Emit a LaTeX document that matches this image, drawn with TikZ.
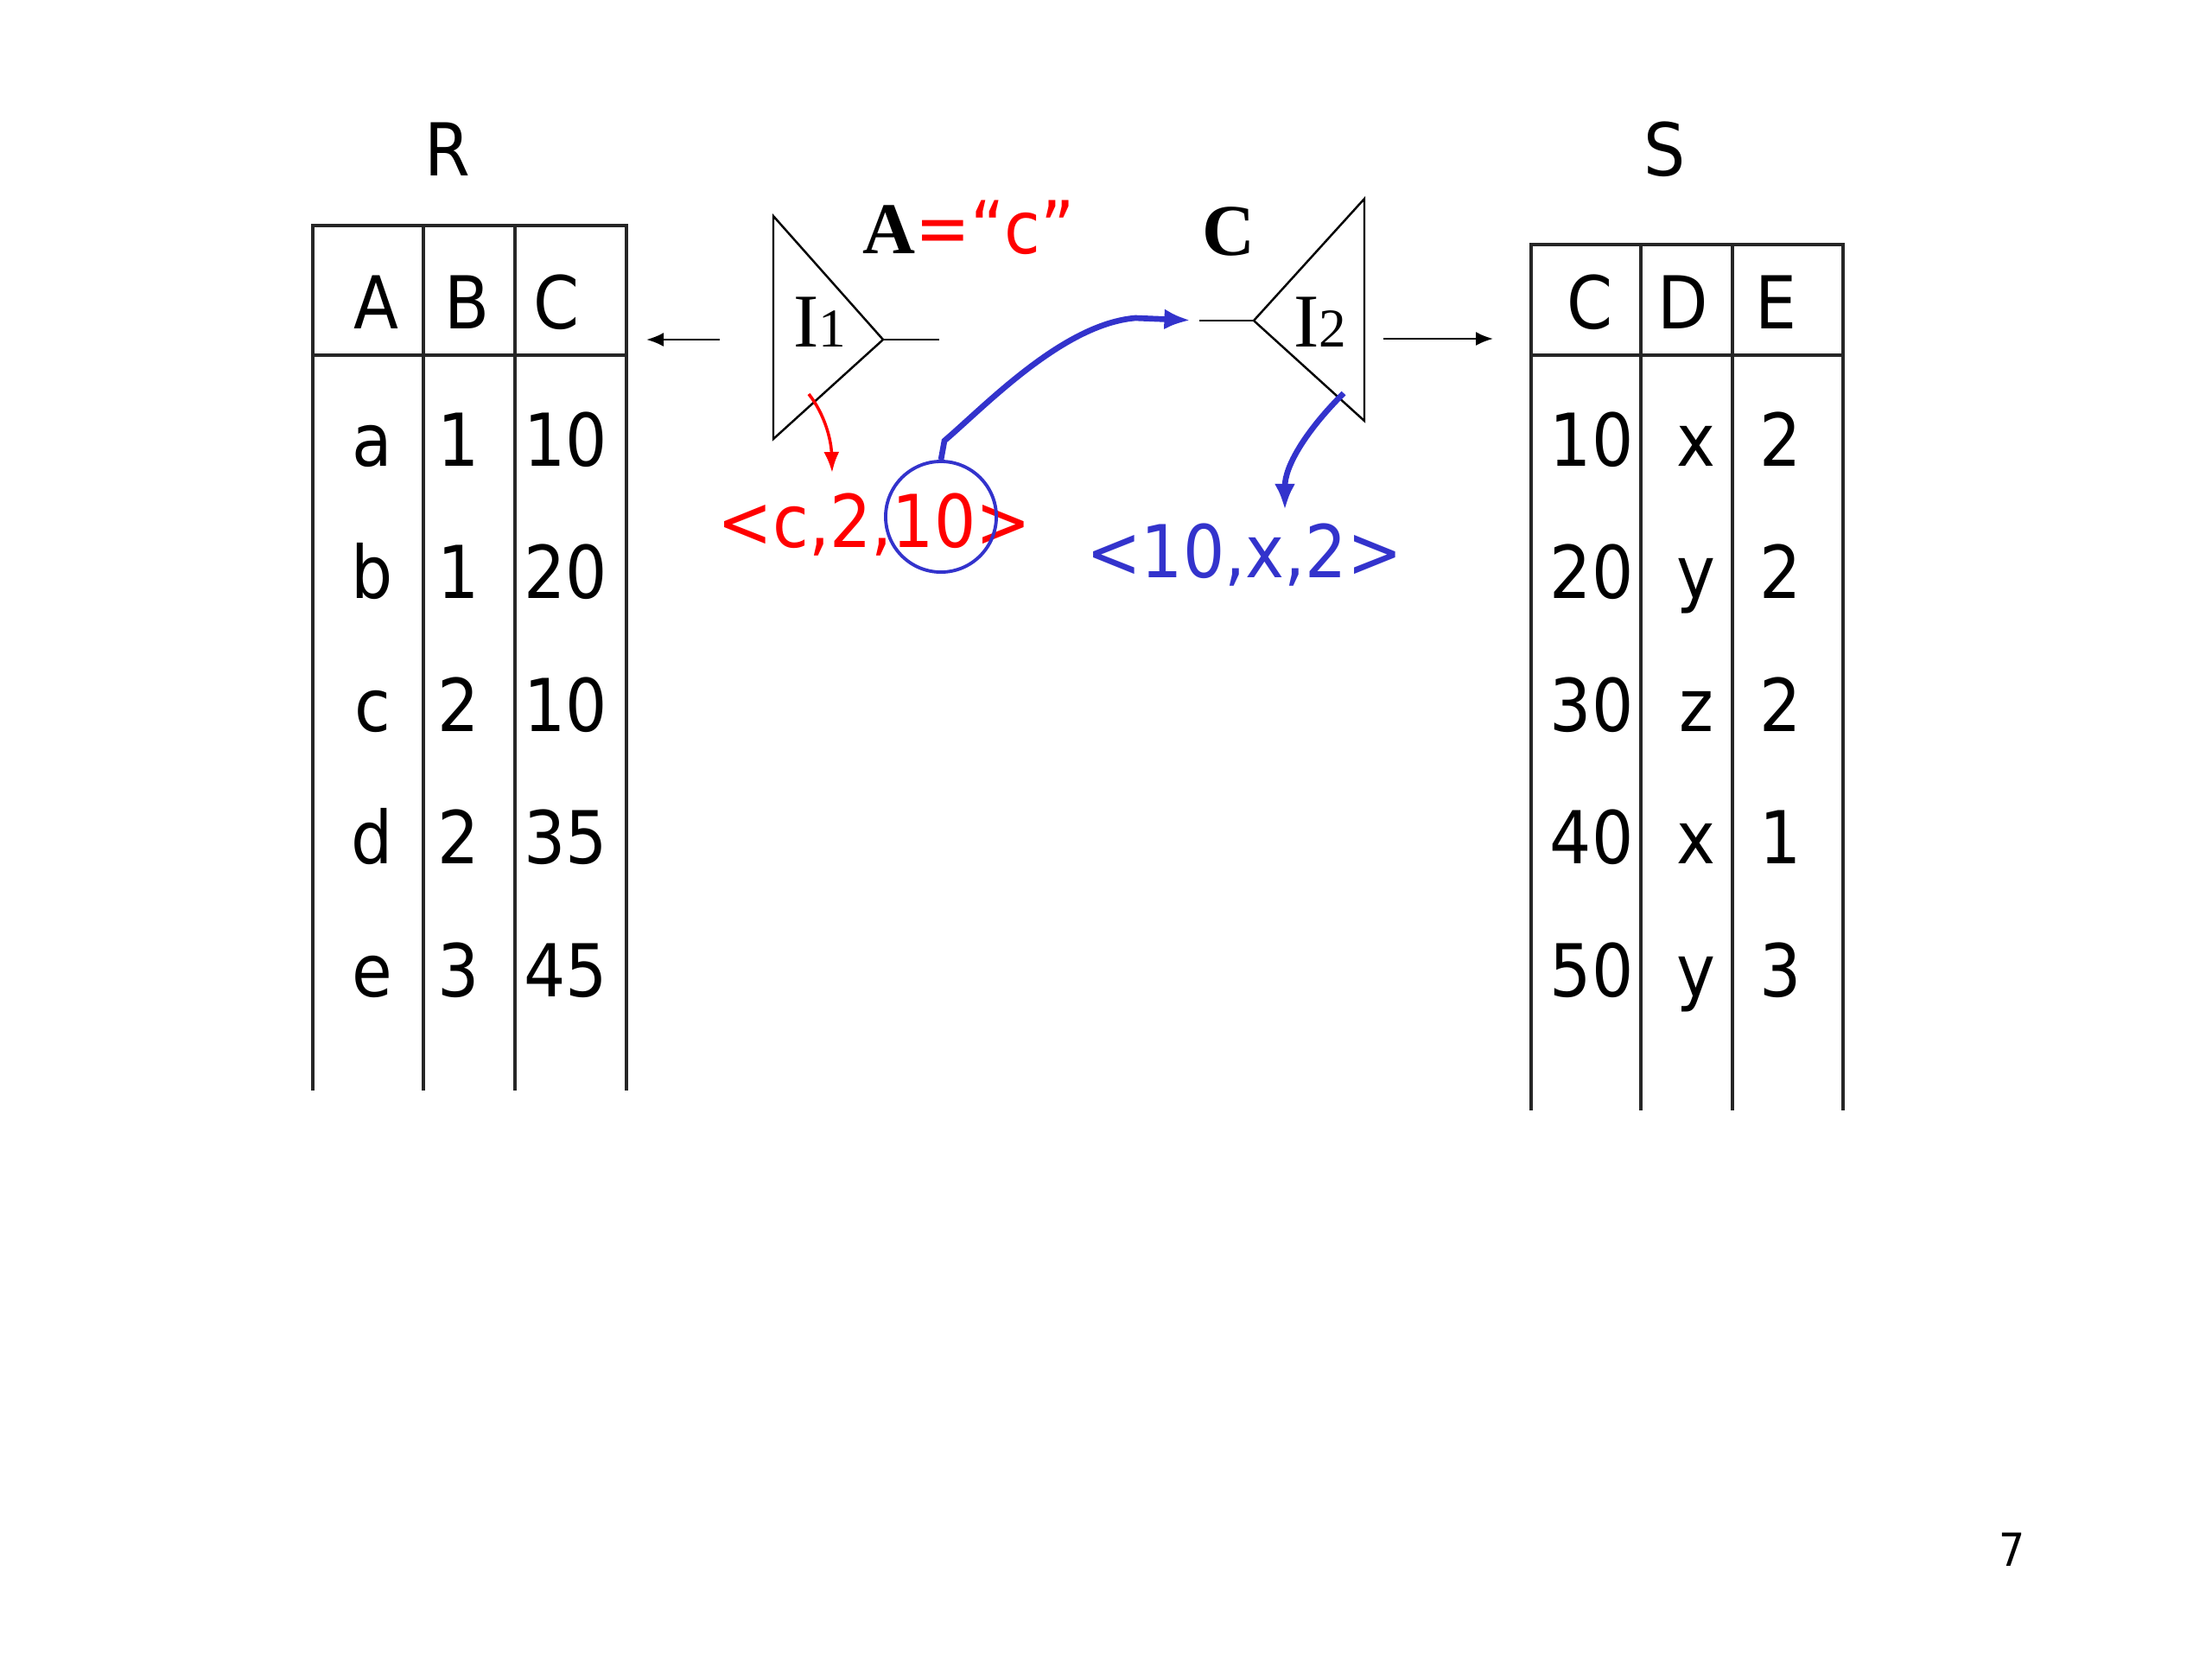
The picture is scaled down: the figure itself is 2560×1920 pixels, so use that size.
\documentclass[tikz,border=0pt]{standalone}
\usepackage{fontspec}
\setmainfont[FakeStretch=0.9]{DejaVu Sans}
\newfontfamily\serifrm{Liberation Serif}
\usetikzlibrary{arrows.meta}
\definecolor{hlred}{HTML}{FF0000}
\definecolor{hlblue}{HTML}{3333CC}
\tikzset{
  txt/.style={font=\fontsize{24}{28}\selectfont, inner sep=0pt, anchor=base},
  idx/.style={txt, font=\serifrm\fontsize{25}{28}\selectfont},
  tabline/.style={line width=1pt, black!85},
  tri/.style={line width=0.7pt},
  arr/.style={-{Latex[length=2mm, width=1.6mm]}, line width=0.7pt},
  redarr/.style={-{Latex[length=2.4mm, width=1.8mm]}, line width=1pt, hlred},
  bluearr/.style={-{Latex[length=3mm, width=2.4mm]}, line width=1.9pt, hlblue},
}
\begin{document}
\begin{tikzpicture}[x=0.01cm, y=-0.01cm]
    \useasboundingbox (0,0) rectangle (2560,1920);
    \node[txt] (rname) at (518,203) {R};
    \draw[tabline] (362,1262) |- (725,261) -- (725,1262);
    \draw[tabline] (362,411) -- (725,411);
    \foreach \x in {490,596} {
      \draw[tabline] (\x,261) -- (\x,1262);
    }
    \foreach \t/\x [count=\i] in {A/435,B/541,C/644} {
      \node[txt] (rh\i) at (\x,380) {\t};
    }
    \foreach \a/\b/\c [count=\i] in {a/1/10,b/1/20,c/2/10,d/2/35,e/3/45} {
      \node[txt] (ra\i) at (431,{385.5+153.5*\i}) {\a};
      \node[txt] (rb\i) at (531,{385.5+153.5*\i}) {\b};
      \node[txt] (rc\i) at (655,{385.5+153.5*\i}) {\c};
    }
    \node[txt] (sname) at (1927,203) {S};
    \draw[tabline] (1772,1285) |- (2133,283) -- (2133,1285);
    \draw[tabline] (1772,411) -- (2133,411);
    \foreach \x in {1899,2005} {
      \draw[tabline] (\x,283) -- (\x,1285);
    }
    \foreach \t/\x [count=\i] in {C/1840,D/1948,E/2055} {
      \node[txt] (sh\i) at (\x,380) {\t};
    }
    \foreach \c/\d/\e [count=\i] in {10/x/2,20/y/2,30/z/2,40/x/1,50/y/3} {
      \node[txt] (sc\i) at (1842,{385.5+153.5*\i}) {\c};
      \node[txt] (sd\i) at (1963,{385.5+153.5*\i}) {\d};
      \node[txt] (se\i) at (2061,{385.5+153.5*\i}) {\e};
    }
    \coordinate (i1top) at (895,250);
    \coordinate (i1bot) at (895,508);
    \coordinate (i1tip) at (1022,393);
    \coordinate (i1out) at (1087,393);
    \coordinate (i1in) at (833,393);
    \coordinate (rin) at (748,393);
    \draw[tri] (i1top) -- (i1tip) -- (i1bot) -- cycle;
    \draw[tri] (i1tip) -- (i1out);
    \draw[arr] (i1in) -- (rin);
    \node[idx] (i1) at (949,401) {I{\fontsize{18}{18}\selectfont 1}};
    \coordinate (i2top) at (1579,230);
    \coordinate (i2bot) at (1579,487);
    \coordinate (i2tip) at (1451,371);
    \coordinate (i2in) at (1388,371);
    \coordinate (i2out) at (1601,392);
    \coordinate (sin) at (1728,392);
    \draw[tri] (i2top) -- (i2tip) -- (i2bot) -- cycle;
    \draw[tri] (i2in) -- (i2tip);
    \draw[arr] (i2out) -- (sin);
    \node[idx] (i2) at (1528,401) {I{\fontsize{18}{18}\selectfont 2}};
    \node[txt] (sel) at (1121,293) {{\serifrm\bfseries A}\textcolor{hlred}{=“c”}};
    \node[idx, font=\serifrm\bfseries\fontsize{24}{28}\selectfont] (jc) at (1422,295) {C};
    \node[txt, text=hlred] (t1) at (1012,633) {<c,2,10>};
    \node[txt, text=hlblue] (t2) at (1440,668) {<10,x,2>};
    \node[circle, draw=hlblue, line width=1.1pt, minimum size=1.28cm, inner sep=0pt] (hit) at (1089,598) {};
    \coordinate (i1hit) at (936,456);
    \coordinate (t1in) at (963,547);
    \coordinate (i2hit) at (1555,455);
    \coordinate (t2in) at (1487,590);
    \draw[redarr] (i1hit) .. controls (955,480) and (962,510) .. (t1in);
    \draw[bluearr, shorten >=3pt] (hit.north) -- ++(4,-22) .. controls (1140,470) and (1230,375) .. (1314,368) -- (i2in);
    \draw[bluearr] (i2hit) .. controls (1510,500) and (1487,540) .. (t2in);
    \node[font=\fontsize{15}{18}\selectfont, inner sep=0pt, anchor=base] (pg) at (2329,1812) {7};
\end{tikzpicture}
\end{document}
